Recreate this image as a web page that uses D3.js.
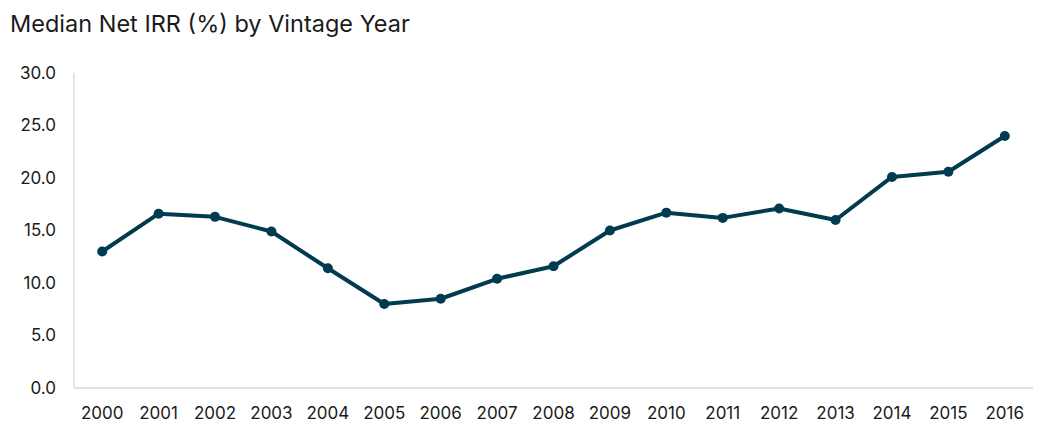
<!DOCTYPE html>
<html>
<head>
<meta charset="UTF-8" />
<script src="https://d3js.org/d3.v7.min.js"></script>
<title>Median Net IRR by Vintage Year</title>
<style>
  body { margin: 0; background: #fff; }
  text { font-family: Inter, "Noto Sans", sans-serif; fill: #1a1a1a; }
</style>
</head>
<body>
<div id="chart"></div>
<script>
// data
var years = ["2000", "2001", "2002", "2003", "2004", "2005", "2006", "2007", "2008",
  "2009", "2010", "2011", "2012", "2013", "2014", "2015", "2016"];
var irr = [13.0, 16.6, 16.3, 14.9, 11.4, 8.0, 8.5, 10.4, 11.6,
  15.0, 16.7, 16.2, 17.1, 16.0, 20.1, 20.6, 24.0];
var yTicks = [0, 5, 10, 15, 20, 25, 30];

var W = 1043, H = 424;
var margin = { top: 73, right: 10, bottom: 36, left: 74 },
  width = 1033 - margin.left,
  height = 388 - margin.top;

var svg = d3.select("#chart").append("svg")
  .attr("width", W).attr("height", H);

svg.append("text")
  .attr("x", 10).attr("y", 32)
  .style("font-size", "23.5px")
  .text("Median Net IRR (%) by Vintage Year");

var g = svg.append("g")
  .attr("transform", "translate(" + margin.left + "," + margin.top + ")");

var x = d3.scaleBand().domain(years).range([0, width]);
var y = d3.scaleLinear().domain([0, 30]).range([height, 0]);

// axis lines
g.append("line")
  .attr("x1", 0).attr("x2", 0).attr("y1", 0).attr("y2", height)
  .attr("stroke", "#d9d9d9").attr("stroke-width", 1.3);
g.append("line")
  .attr("x1", 0).attr("x2", width).attr("y1", height).attr("y2", height)
  .attr("stroke", "#d9d9d9").attr("stroke-width", 1.3);

// y labels
g.selectAll(".ylab")
  .data(yTicks)
  .enter().append("text")
  .attr("x", -18)
  .attr("y", function(d) { return y(d); })
  .attr("dy", "0.35em")
  .attr("text-anchor", "end")
  .style("font-size", "17px")
  .text(function(d) { return d3.format(".1f")(d); });

// x labels
g.selectAll(".xlab")
  .data(years)
  .enter().append("text")
  .attr("x", function(d) { return x(d) + x.bandwidth() / 2; })
  .attr("y", height + 31)
  .attr("text-anchor", "middle")
  .style("font-size", "17px")
  .text(function(d) { return d; });

var pts = years.map(function(d, i) { return { year: d, value: irr[i] }; });
var color = "#003b4f";

g.append("path")
  .datum(pts)
  .attr("fill", "none")
  .attr("stroke", color)
  .attr("stroke-width", 4)
  .attr("stroke-linejoin", "round")
  .attr("d", d3.line()
    .x(function(d) { return x(d.year) + x.bandwidth() / 2; })
    .y(function(d) { return y(d.value); }));

g.selectAll(".dot")
  .data(pts)
  .enter().append("circle")
  .attr("cx", function(d) { return x(d.year) + x.bandwidth() / 2; })
  .attr("cy", function(d) { return y(d.value); })
  .attr("r", 5)
  .attr("fill", color);
</script>
</body>
</html>
